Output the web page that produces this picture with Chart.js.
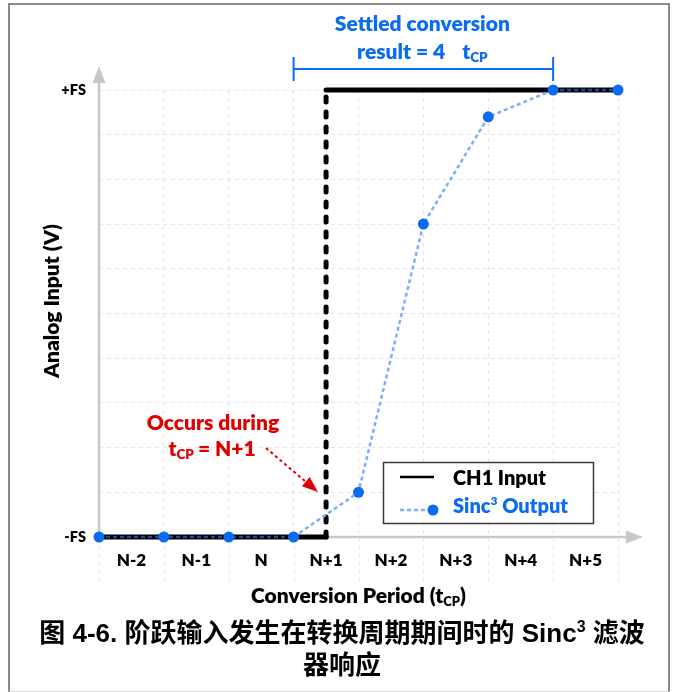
<!DOCTYPE html>
<html>
<head>
<meta charset="utf-8">
<script src="https://cdn.jsdelivr.net/npm/chart.js@4.4.0/dist/chart.umd.min.js"></script>
<style>
  html, body { margin: 0; padding: 0; background: #fff; }
  #wrap { position: relative; width: 676px; height: 692px; overflow: hidden; }
  #frame { position: absolute; left: 8px; top: 3px; width: 658px; height: 686px;
           border: 2px solid #8a8a8a; border-bottom: 1px solid #d8d8d8; }
  #plot { position: absolute; left: 0; top: 0; }
  #caption { position: absolute; left: 4px; top: 617px; width: 676px; text-align: center;
             font: bold 26px "Liberation Sans", "Noto Sans CJK SC", sans-serif;
             line-height: 32px; color: #000; }
  #caption sup { font-size: 16px; line-height: 0; vertical-align: 10px; }
</style>
</head>
<body>
<div id="wrap">
  <div id="frame"></div>
  <canvas id="plot" width="676" height="692"></canvas>
  <div id="caption">图 4-6. 阶跃输入发生在转换周期期间时的 Sinc<sup>3</sup> 滤波<br>器响应</div>
</div>
<script>
// Conversion periods shown along the time axis
const periodLabels = ['N-2', 'N-1', 'N', 'N+1', 'N+2', 'N+3', 'N+4', 'N+5'];
// Period boundaries where the filter delivers a result
const boundaries = [0, 1, 2, 3, 4, 5, 6, 7, 8];
// Sinc3 output at each boundary, 0 = -FS, 10 = +FS
const sincOutput = [0, 0, 0, 0, 1, 7, 9.4, 10, 10];
// Analog input step (CH1): low, step part-way through N+1, high
const inputX = [0, 3.5, 3.5, 8];
const inputY = [0, 0, 10, 10];
// Level names on the vertical axis
const levelLabels = { 0: '-FS', 10: '+FS' };
// Settling span of the filter, in conversion periods, from the step's period
const settleStart = 3;
const settleCount = 4;

const FONT = 'Lato, "Liberation Sans", sans-serif';
const W = 800;
const BLUE = '#0a6cf0';
const RED = '#e00000';
const GRID = '#e4e4e4';
const AXIS = '#c8c8c8';

// draw a row of text runs (for subscripts / superscripts)
function drawRuns(ctx, runs, x, baseline, align) {
  let total = 0;
  runs.forEach(r => { ctx.font = r.font; r.w = ctx.measureText(r.text).width; total += r.w + (r.gap || 0); });
  let cx = align === 'center' ? x - total / 2 : x;
  ctx.textAlign = 'left';
  ctx.textBaseline = 'alphabetic';
  runs.forEach(r => {
    ctx.font = r.font;
    ctx.fillStyle = r.color;
    ctx.fillText(r.text, cx, baseline + (r.dy || 0));
    cx += r.w + (r.gap || 0);
  });
}

function arrowHead(ctx, tipX, tipY, fromX, fromY, len, half, color) {
  const ang = Math.atan2(tipY - fromY, tipX - fromX);
  const bx = tipX - len * Math.cos(ang), by = tipY - len * Math.sin(ang);
  ctx.beginPath();
  ctx.moveTo(tipX, tipY);
  ctx.lineTo(bx + half * Math.sin(ang), by - half * Math.cos(ang));
  ctx.lineTo(bx - half * Math.sin(ang), by + half * Math.cos(ang));
  ctx.closePath();
  ctx.fillStyle = color;
  ctx.fill();
}

const f = (size) => `${W} ${size}px ${FONT}`;

const decor = {
  id: 'decor',
  beforeDatasetsDraw(chart) {
    const { ctx, chartArea: a, scales: { x } } = chart;
    ctx.save();
    // grid columns continue down through the period labels
    ctx.strokeStyle = GRID; ctx.lineWidth = 1; ctx.setLineDash([4, 4]);
    boundaries.forEach(b => {
      const px = Math.round(x.getPixelForValue(b)) + 0.5;
      ctx.beginPath(); ctx.moveTo(px, a.bottom); ctx.lineTo(px, a.bottom + 44); ctx.stroke();
    });
    ctx.setLineDash([]);
    // axes with arrowheads
    const x0 = a.left, y0 = a.bottom;
    ctx.strokeStyle = AXIS; ctx.lineWidth = 2.5;
    ctx.beginPath(); ctx.moveTo(x0, y0); ctx.lineTo(x0, 80); ctx.stroke();
    arrowHead(ctx, x0, 66, x0, 200, 17, 6.5, AXIS);
    ctx.beginPath(); ctx.moveTo(x0, y0); ctx.lineTo(630, y0); ctx.stroke();
    arrowHead(ctx, 643, y0, 400, y0, 17, 6.5, AXIS);
    ctx.restore();
  },
  afterDatasetsDraw(chart) {
    const { ctx, chartArea: a, scales: { x } } = chart;
    ctx.save();

    // settling bracket
    const bx1 = x.getPixelForValue(settleStart), bx2 = x.getPixelForValue(settleStart + settleCount);
    ctx.strokeStyle = BLUE; ctx.lineWidth = 2;
    ctx.beginPath();
    ctx.moveTo(bx1, 69); ctx.lineTo(bx2, 69);
    ctx.moveTo(bx1, 57); ctx.lineTo(bx1, 81);
    ctx.moveTo(bx2, 57); ctx.lineTo(bx2, 81);
    ctx.stroke();
    const bc = (bx1 + bx2) / 2 - 1;
    drawRuns(ctx, [{ text: 'Settled conversion', font: f(21), color: BLUE }], bc, 31, 'center');
    drawRuns(ctx, [
      { text: `result = ${settleCount}`, font: f(21), color: BLUE, gap: 17 },
      { text: 't', font: f(21), color: BLUE },
      { text: 'CP', font: f(13.5), color: BLUE, dy: 3 }
    ], bc, 59, 'center');

    // step-time note
    drawRuns(ctx, [{ text: 'Occurs during', font: f(21), color: RED }], 213, 430, 'center');
    drawRuns(ctx, [
      { text: 't', font: f(21), color: RED },
      { text: 'CP', font: f(13.5), color: RED, dy: 3, gap: 4 },
      { text: '= ' + periodLabels[Math.floor(inputX[1])], font: f(21), color: RED }
    ], 212, 456, 'center');
    ctx.strokeStyle = RED; ctx.lineWidth = 2; ctx.setLineDash([3, 3]);
    ctx.beginPath(); ctx.moveTo(266, 448); ctx.lineTo(306, 482); ctx.stroke();
    ctx.setLineDash([]);
    arrowHead(ctx, 318, 492, 266, 448, 16, 6, RED);

    // legend
    ctx.fillStyle = '#fff';
    ctx.fillRect(383.5, 462.5, 210, 61);
    ctx.strokeStyle = '#3a3a3a'; ctx.lineWidth = 1.5;
    ctx.strokeRect(383.5, 462.5, 210, 61);
    ctx.strokeStyle = '#000'; ctx.lineWidth = 2.5;
    ctx.beginPath(); ctx.moveTo(400, 477); ctx.lineTo(434, 477); ctx.stroke();
    ctx.strokeStyle = '#7aaeff'; ctx.lineWidth = 2.5; ctx.setLineDash([4, 3]);
    ctx.beginPath(); ctx.moveTo(400, 510); ctx.lineTo(430, 510); ctx.stroke();
    ctx.setLineDash([]);
    ctx.fillStyle = BLUE;
    ctx.beginPath(); ctx.arc(433, 510, 5.5, 0, Math.PI * 2); ctx.fill();
    drawRuns(ctx, [{ text: 'CH1 Input', font: f(20), color: '#000' }], 453, 485, 'left');
    drawRuns(ctx, [
      { text: 'Sinc', font: f(20), color: BLUE },
      { text: '3', font: f(12), color: BLUE, dy: -8 },
      { text: ' Output', font: f(20), color: BLUE }
    ], 453, 513, 'left');

    // axis titles
    drawRuns(ctx, [
      { text: 'Conversion Period (t', font: f(21), color: '#000' },
      { text: 'CP', font: f(13), color: '#000', dy: 3 },
      { text: ')', font: f(21), color: '#000' }
    ], (a.left + a.right) / 2, 603, 'center');
    ctx.translate(59, 301);
    ctx.rotate(-Math.PI / 2);
    drawRuns(ctx, [{ text: 'Analog Input (V)', font: f(21), color: '#000' }], 0, 0, 'center');
    ctx.restore();
  }
};

new Chart(document.getElementById('plot'), {
  type: 'scatter',
  data: {
    datasets: [
      {
        label: 'Sinc3 Output',
        data: boundaries.map((b, i) => ({ x: b, y: sincOutput[i] })),
        showLine: true,
        borderColor: '#7aaeff',
        borderWidth: 2.5,
        borderDash: [4, 3],
        pointRadius: 5.5,
        pointHoverRadius: 5.5,
        pointBackgroundColor: BLUE,
        pointBorderWidth: 0,
        clip: false,
        segment: {
          // where it runs over the input trace it reads dark
          borderColor: c => (c.p0.parsed.y === c.p1.parsed.y ? '#1d4aa0' : undefined)
        }
      },
      {
        label: 'CH1 Input',
        data: inputX.map((v, i) => ({ x: v, y: inputY[i] })),
        showLine: true,
        borderColor: '#000',
        borderWidth: 5,
        borderCapStyle: 'round',
        pointRadius: 0,
        clip: false,
        segment: {
          borderDash: c => (c.p0.parsed.x === c.p1.parsed.x ? [5, 10] : undefined)
        }
      }
    ]
  },
  options: {
    responsive: false,
    animation: false,
    devicePixelRatio: 1,
    layout: { padding: { left: 0, top: 90, right: 58, bottom: 0 } },
    plugins: { legend: { display: false }, tooltip: { enabled: false } },
    scales: {
      x: {
        type: 'linear', min: 0, max: 8,
        afterFit(s) { s.height = 155; },
        border: { display: false, dash: [4, 4] },
        grid: { color: GRID, lineWidth: 1, drawTicks: false },
        ticks: {
          stepSize: 1, autoSkip: false, maxRotation: 0, padding: 13, labelOffset: 32.4,
          color: '#000', font: { family: FONT, weight: W, size: 17 },
          callback: v => periodLabels[v] ?? ''
        }
      },
      y: {
        type: 'linear', min: 0, max: 10,
        afterFit(s) { s.width = 99; },
        border: { display: false, dash: [4, 4] },
        grid: { color: GRID, lineWidth: 1, drawTicks: false },
        ticks: {
          stepSize: 1, padding: 13, color: '#000',
          font: { family: FONT, weight: W, size: 14.5 },
          callback: v => levelLabels[v] ?? ''
        }
      }
    }
  },
  plugins: [decor]
});
</script>
</body>
</html>
